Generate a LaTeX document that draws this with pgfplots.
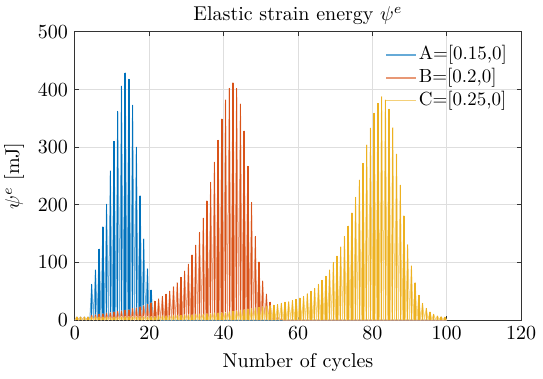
\documentclass[border=0pt]{standalone}
\usepackage{pgfplots}
\usepackage{pgfplotstable}
\pgfplotsset{compat=1.18}
\definecolor{mA}{rgb}{0,0.447,0.741}
\definecolor{mB}{rgb}{0.85,0.325,0.098}
\definecolor{mC}{rgb}{0.929,0.694,0.125}
\pgfplotstableread[row sep=\\]{x y\\ 0 0\\ 0.5 5\\ 1 0\\ 1.5 5\\ 2 0\\ 2.5 5\\ 3 0\\ 3.5 5\\ 4 0\\ 4.5 62\\ 5 0\\ 5.5 87\\ 6 0\\ 6.5 123\\ 7 0\\ 7.5 162\\ 8 0\\ 8.5 201\\ 9 0\\ 9.5 259\\ 10 0\\ 10.5 310\\ 11 0\\ 11.5 362\\ 12 0\\ 12.5 406\\ 13 0\\ 13.5 429\\ 14 0\\ 14.5 418\\ 15 0\\ 15.5 373\\ 16 0\\ 16.5 300\\ 17 0\\ 17.5 216\\ 18 0\\ 18.5 141\\ 19 0\\ 19.5 89\\ 20 0\\ 20.5 52\\ 21 0\\ 21.5 12\\ 22 0\\ 22.5 3\\ 23 0\\ 100 0\\}\tabA
\pgfplotstableread[row sep=\\]{x y\\ 0 0\\ 0.5 5\\ 1 0\\ 1.5 5\\ 2 0\\ 2.5 5\\ 3 0\\ 3.5 5\\ 4 0\\ 4.5 8\\ 5 0\\ 5.5 9\\ 6 0\\ 6.5 10\\ 7 0\\ 7.5 11\\ 8 0\\ 8.5 12\\ 9 0\\ 9.5 13\\ 10 0\\ 10.5 14\\ 11 0\\ 11.5 15\\ 12 0\\ 12.5 16\\ 13 0\\ 13.5 17\\ 14 0\\ 14.5 18\\ 15 0\\ 15.5 20\\ 16 0\\ 16.5 21\\ 17 0\\ 17.5 23\\ 18 0\\ 18.5 25\\ 19 0\\ 19.5 27\\ 20 0\\ 20.5 30\\ 21 0\\ 21.5 33\\ 22 0\\ 22.5 37\\ 23 0\\ 23.5 41\\ 24 0\\ 24.5 45\\ 25 0\\ 25.5 50\\ 26 0\\ 26.5 58\\ 27 0\\ 27.5 65\\ 28 0\\ 28.5 74\\ 29 0\\ 29.5 85\\ 30 0\\ 30.5 97\\ 31 0\\ 31.5 113\\ 32 0\\ 32.5 130\\ 33 0\\ 33.5 152\\ 34 0\\ 34.5 177\\ 35 0\\ 35.5 207\\ 36 0\\ 36.5 239\\ 37 0\\ 37.5 274\\ 38 0\\ 38.5 312\\ 39 0\\ 39.5 349\\ 40 0\\ 40.5 382\\ 41 0\\ 41.5 402\\ 42 0\\ 42.5 412\\ 43 0\\ 43.5 402\\ 44 0\\ 44.5 375\\ 45 0\\ 45.5 328\\ 46 0\\ 46.5 267\\ 47 0\\ 47.5 204\\ 48 0\\ 48.5 145\\ 49 0\\ 49.5 101\\ 50 0\\ 50.5 68\\ 51 0\\ 51.5 45\\ 52 0\\ 52.5 31\\ 53 0\\ 53.5 15\\ 54 0\\ 54.5 6\\ 55 0\\ 55.5 2\\ 56 0\\ 100 0\\}\tabB
\pgfplotstableread[row sep=\\]{x y\\ 0 0\\ 0.5 5\\ 1 0\\ 1.5 5\\ 2 0\\ 2.5 5\\ 3 0\\ 3.5 5\\ 4 0\\ 4.5 5\\ 5 0\\ 5.5 5\\ 6 0\\ 6.5 5\\ 7 0\\ 7.5 5\\ 8 0\\ 8.5 5\\ 9 0\\ 9.5 5\\ 10 0\\ 10.5 5\\ 11 0\\ 11.5 5\\ 12 0\\ 12.5 6\\ 13 0\\ 13.5 6\\ 14 0\\ 14.5 6\\ 15 0\\ 15.5 6\\ 16 0\\ 16.5 6\\ 17 0\\ 17.5 6\\ 18 0\\ 18.5 6\\ 19 0\\ 19.5 6\\ 20 0\\ 20.5 6\\ 21 0\\ 21.5 6\\ 22 0\\ 22.5 7\\ 23 0\\ 23.5 7\\ 24 0\\ 24.5 7\\ 25 0\\ 25.5 7\\ 26 0\\ 26.5 8\\ 27 0\\ 27.5 8\\ 28 0\\ 28.5 8\\ 29 0\\ 29.5 9\\ 30 0\\ 30.5 9\\ 31 0\\ 31.5 9\\ 32 0\\ 32.5 10\\ 33 0\\ 33.5 10\\ 34 0\\ 34.5 10\\ 35 0\\ 35.5 11\\ 36 0\\ 36.5 11\\ 37 0\\ 37.5 12\\ 38 0\\ 38.5 12\\ 39 0\\ 39.5 13\\ 40 0\\ 40.5 13\\ 41 0\\ 41.5 14\\ 42 0\\ 42.5 15\\ 43 0\\ 43.5 16\\ 44 0\\ 44.5 17\\ 45 0\\ 45.5 18\\ 46 0\\ 46.5 19\\ 47 0\\ 47.5 20\\ 48 0\\ 48.5 21\\ 49 0\\ 49.5 22\\ 50 0\\ 50.5 23\\ 51 0\\ 51.5 24\\ 52 0\\ 52.5 25\\ 53 0\\ 53.5 26\\ 54 0\\ 54.5 27\\ 55 0\\ 55.5 29\\ 56 0\\ 56.5 31\\ 57 0\\ 57.5 32\\ 58 0\\ 58.5 34\\ 59 0\\ 59.5 36\\ 60 0\\ 60.5 38\\ 61 0\\ 61.5 41\\ 62 0\\ 62.5 46\\ 63 0\\ 63.5 50\\ 64 0\\ 64.5 55\\ 65 0\\ 65.5 62\\ 66 0\\ 66.5 69\\ 67 0\\ 67.5 76\\ 68 0\\ 68.5 87\\ 69 0\\ 69.5 100\\ 70 0\\ 70.5 111\\ 71 0\\ 71.5 127\\ 72 0\\ 72.5 145\\ 73 0\\ 73.5 163\\ 74 0\\ 74.5 186\\ 75 0\\ 75.5 213\\ 76 0\\ 76.5 243\\ 77 0\\ 77.5 272\\ 78 0\\ 78.5 304\\ 79 0\\ 79.5 333\\ 80 0\\ 80.5 359\\ 81 0\\ 81.5 376\\ 82 0\\ 82.5 388\\ 83 0\\ 83.5 382\\ 84 0\\ 84.5 366\\ 85 0\\ 85.5 334\\ 86 0\\ 86.5 288\\ 87 0\\ 87.5 234\\ 88 0\\ 88.5 181\\ 89 0\\ 89.5 131\\ 90 0\\ 90.5 94\\ 91 0\\ 91.5 65\\ 92 0\\ 92.5 43\\ 93 0\\ 93.5 29\\ 94 0\\ 94.5 20\\ 95 0\\ 95.5 14\\ 96 0\\ 96.5 10\\ 97 0\\ 97.5 7\\ 98 0\\ 98.5 6\\ 99 0\\ 99.5 5\\ 100 0\\}\tabC
\begin{document}
\begin{tikzpicture}
\begin{axis}[
  scale only axis, width=223pt, height=144pt,
  xmin=0, xmax=120, ymin=0, ymax=500,
  xtick={0,20,...,120}, ytick={0,100,...,500},
  grid=major, major grid style={black!13, line width=0.5pt},
  axis line style={black!80, line width=0.5pt},
  tick style={black!80, line width=0.5pt},
  major tick length=2.2pt, tick align=inside,
  every axis title/.style={at={(0.5,1)},anchor=south},
  title={Elastic strain energy $\psi^e$},
  xlabel={Number of cycles},
  ylabel={$\psi^e$ [mJ]},
  legend cell align=left,
  legend style={at={(1,1)}, anchor=north east, xshift=-2.9pt, yshift=-3.6pt,
    draw=none, fill=none, nodes={inner sep=0.9pt, text height=7.2pt, text depth=2.4pt},
    font=\fontsize{9.5}{11}\selectfont},
  legend image code/.code={\draw[#1, line width=0.8pt] (0pt,0pt) -- (15pt,0pt);},
  every axis plot/.append style={line width=0.5pt, line join=round},
]
\addplot[color=mA!60] table {\tabA};
\addlegendentry{A=[0.15,0]}
\addplot[color=mA, ycomb, line width=0.7pt, forget plot] table {\tabA};
\addplot[color=mB!60] table {\tabB};
\addlegendentry{B=[0.2,0]}
\addplot[color=mB, ycomb, line width=0.7pt, forget plot] table {\tabB};
\addplot[color=mC!60] table {\tabC};
\addlegendentry{C=[0.25,0]}
\addplot[color=mC, ycomb, line width=0.7pt, forget plot] table {\tabC};
\end{axis}
\pgfresetboundingbox
\path ([shift={(-37.5pt,-29pt)}]current axis.south west) rectangle ([shift={(11pt,16pt)}]current axis.north east);
\end{tikzpicture}
\end{document}
